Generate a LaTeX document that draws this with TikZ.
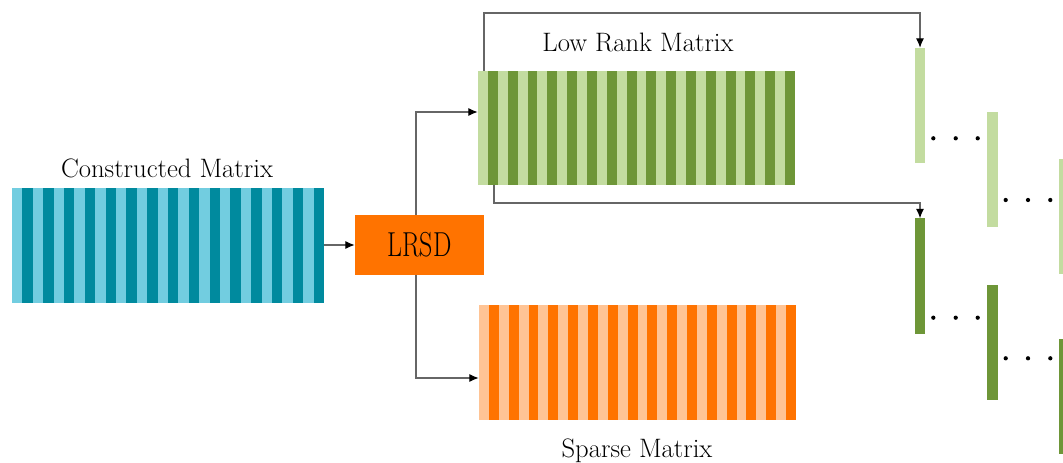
\documentclass[tikz,border=0pt]{standalone}
\usetikzlibrary{arrows.meta}
\definecolor{tealD}{HTML}{008A9E}
\definecolor{tealL}{HTML}{72CDE0}
\definecolor{greenD}{HTML}{6E9638}
\definecolor{greenL}{HTML}{C3DCA0}
\definecolor{orangeD}{HTML}{FF7300}
\definecolor{orangeL}{HTML}{FFC495}
\definecolor{lineC}{HTML}{666666}
\tikzset{
  mat/.style={rectangle, inner sep=0pt, draw=none},
  bar/.style={rectangle, inner sep=0pt},
  conn/.style={draw=lineC, line width=0.8pt, -{Latex[length=7pt,width=6pt,color=black]}},
  lbl/.style={font=\fontsize{20}{22}\selectfont, inner sep=0pt},
  dotc/.style={fill=black},
}
\newcommand{\stripes}[6]{% x0, x1, ytop, ybot, n, colour prefix
  \pgfmathsetmacro{\pp}{(#2-#1)/#5}
  \foreach \i in {0,...,\numexpr#5-1\relax}{
    \fill[#6L] ({#1+\i*\pp},#3) rectangle ({#1+\i*\pp+\pp/2},#4);
    \fill[#6D] ({#1+\i*\pp+\pp/2},#3) rectangle ({#1+(\i+1)*\pp},#4);
  }
}
\begin{document}
\begin{tikzpicture}[x=0.75pt,y=-0.75pt]
\useasboundingbox (0,0) rectangle (1063,463);

% matrices
\node[mat, minimum width=312*0.75pt, minimum height=115*0.75pt] (cm) at (168,245.5) {};
\stripes{12}{324}{188}{303}{15}{teal}
\node[lbl] (cml) at (167,168) {Constructed Matrix};

\node[mat, minimum width=317*0.75pt, minimum height=114*0.75pt] (lr) at (636.5,128) {};
\stripes{478}{795}{71}{185}{16}{green}
\node[lbl] (lrl) at (638,42) {Low Rank Matrix};

\node[mat, minimum width=317*0.75pt, minimum height=115*0.75pt] (sp) at (637.5,362.5) {};
\stripes{479}{796}{305}{420}{16}{orange}
\node[lbl] (spl) at (637,451) {Sparse Matrix};

% LRSD
\node[rectangle, fill=orangeD, minimum width=129*0.75pt, minimum height=60*0.75pt, inner sep=0pt,
  font=\fontsize{26}{28}\selectfont] (lrsd) at (419.5,245) {\scalebox{0.75}[1]{LRSD}};

% bars
\node[bar, fill=greenL, minimum width=10.6*0.75pt, minimum height=115*0.75pt] (l1) at (920,105.5) {};
\node[bar, fill=greenL, minimum width=10.6*0.75pt, minimum height=115*0.75pt] (l2) at (992.5,170) {};
\node[bar, fill=greenL, minimum width=10.6*0.75pt, minimum height=115*0.75pt] (l3) at (1064.7,216.5) {};
\node[bar, fill=greenD, minimum width=10.6*0.75pt, minimum height=115*0.75pt] (d1) at (920,276) {};
\node[bar, fill=greenD, minimum width=10.6*0.75pt, minimum height=115*0.75pt] (d2) at (992.5,342.5) {};
\node[bar, fill=greenD, minimum width=10.6*0.75pt, minimum height=115*0.75pt] (d3) at (1064.7,396) {};

% dots
\foreach \y in {138.3,317.7}{
  \foreach \x in {933.3,955.7,977.7}{\fill[dotc] (\x,\y) circle (1.6pt);}
}
\foreach \y in {200,358.3}{
  \foreach \x in {1005.7,1028,1050.3}{\fill[dotc] (\x,\y) circle (1.6pt);}
}

% connectors
\coordinate (trunk) at (416,0);
\coordinate (upy) at (0,112);
\coordinate (dny) at (0,378);
\coordinate (xa) at (484,0);
\coordinate (topy) at (0,13);
\coordinate (xb) at (494,0);
\coordinate (midy) at (0,203);

\draw[conn] (cm.east |- lrsd.west) -- (lrsd.west);
\draw[conn] (lrsd.north -| trunk) |- (lr.west |- upy);
\draw[conn] (lrsd.south -| trunk) |- (sp.west |- dny);
\draw[conn] (lr.north -| xa) |- (topy -| l1.north) -- (l1.north);
\draw[conn] (lr.south -| xb) |- (midy -| d1.north) -- (d1.north);
\end{tikzpicture}
\end{document}
